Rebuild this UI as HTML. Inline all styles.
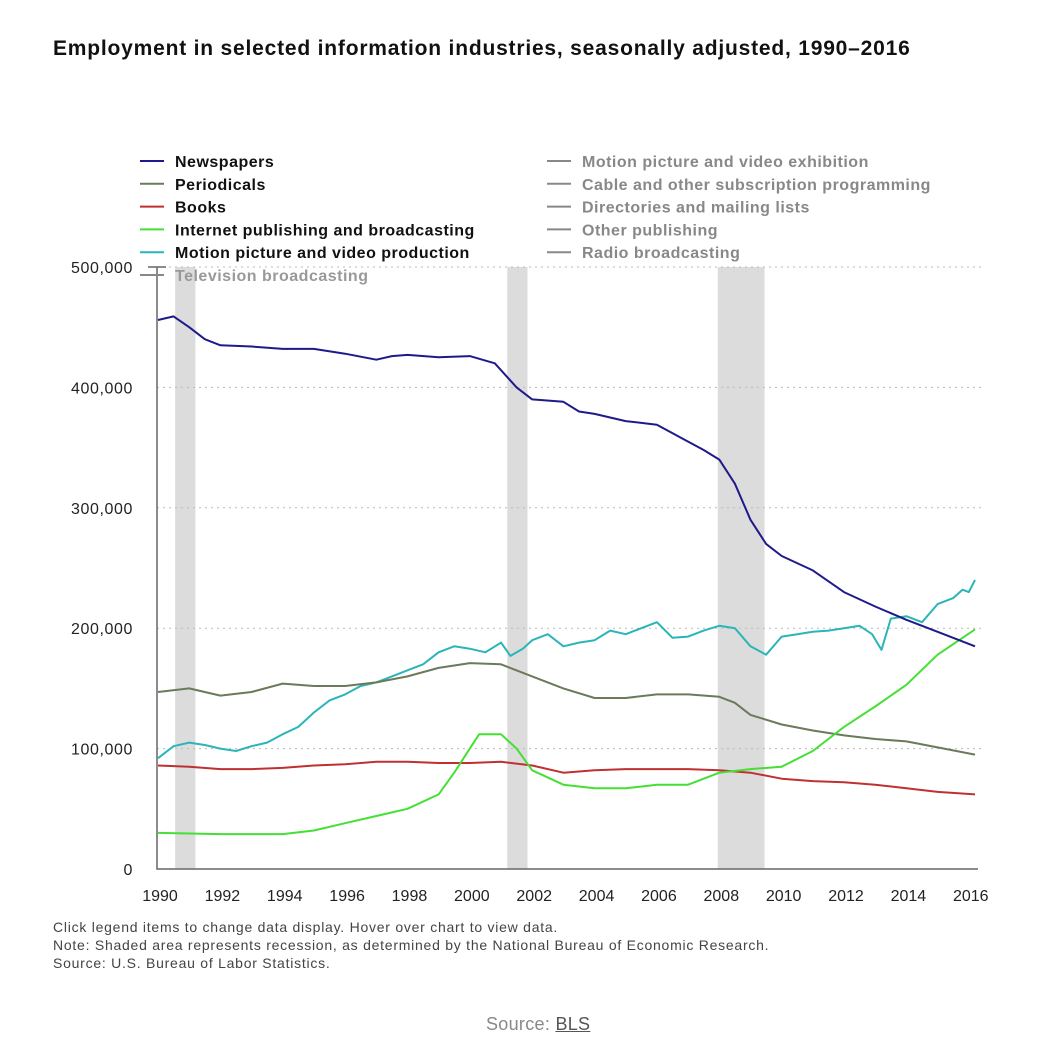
<!DOCTYPE html>
<html><head><meta charset="utf-8"><style>
body{margin:0;background:#fff;width:1037px;height:1064px;overflow:hidden;font-family:"Liberation Sans",sans-serif}
.t{position:absolute;white-space:nowrap}
</style></head><body>
<div class="t" style="left:53px;top:37px;font-size:21px;letter-spacing:0.8px;font-weight:bold;color:#111">Employment in selected information industries, seasonally adjusted, 1990–2016</div>
<svg id="c" width="1037" height="1064" style="position:absolute;left:0;top:0"></svg>
<div class="t" style="left:53px;top:919px;font-size:14px;letter-spacing:0.75px;color:#444">Click legend items to change data display. Hover over chart to view data.</div>
<div class="t" style="left:53px;top:937px;font-size:14px;letter-spacing:0.75px;color:#444">Note: Shaded area represents recession, as determined by the National Bureau of Economic Research.</div>
<div class="t" style="left:53px;top:955px;font-size:14px;letter-spacing:0.75px;color:#444">Source: U.S. Bureau of Labor Statistics.</div>
<div class="t" style="left:486px;top:1014px;font-size:18px;letter-spacing:0.3px;color:#888">Source: <span style="text-decoration:underline;color:#555">BLS</span></div>
<script>
const yTicks=[0,100000,200000,300000,400000,500000];
const xTicks=[1990,1992,1994,1996,1998,2000,2002,2004,2006,2008,2010,2012,2014,2016];
const recessions=[[1990.55,1991.2],[2001.2,2001.85],[2007.95,2009.45]];
const newsX=[1990,1990.5,1991,1991.5,1992,1993,1994,1995,1996,1997,1997.5,1998,1999,2000,2000.8,2001.5,2002,2003,2003.5,2004,2005,2006,2007,2007.5,2008,2008.5,2009,2009.5,2010,2011,2012,2013,2014,2015,2016.2];
const newsY=[456,459,450,440,435,434,432,432,428,423,426,427,425,426,420,400,390,388,380,378,372,369,355,348,340,320,290,270,260,248,230,218,207,197,185];
const perX=[1990,1991,1992,1993,1994,1995,1996,1997,1998,1999,2000,2001,2002,2003,2004,2005,2006,2007,2008,2008.5,2009,2010,2011,2012,2013,2014,2015,2016.2];
const perY=[147,150,144,147,154,152,152,155,160,167,171,170,160,150,142,142,145,145,143,138,128,120,115,111,108,106,101,95];
const bookX=[1990,1991,1992,1993,1994,1995,1996,1997,1998,1999,2000,2001,2002,2003,2004,2005,2006,2007,2008,2009,2010,2011,2012,2013,2014,2015,2016.2];
const bookY=[86,85,83,83,84,86,87,89,89,88,88,89,86,80,82,83,83,83,82,80,75,73,72,70,67,64,62];
const netX=[1990,1992,1994,1995,1996,1997,1998,1999,1999.5,2000,2000.3,2001,2001.5,2002,2003,2004,2005,2006,2006.5,2007,2008,2009,2010,2011,2012,2013,2014,2015,2016.2];
const netY=[30,29,29,32,38,44,50,62,80,100,112,112,100,82,70,67,67,70,70,70,80,83,85,98,118,135,153,178,199];
const movX=[1990,1990.5,1991,1991.5,1992,1992.5,1993,1993.5,1994,1994.5,1995,1995.5,1996,1996.5,1997,1997.5,1998,1998.5,1999,1999.5,2000,2000.5,2001,2001.3,2001.7,2002,2002.5,2003,2003.5,2004,2004.5,2005,2005.5,2006,2006.5,2007,2007.5,2008,2008.5,2009,2009.5,2010,2010.5,2011,2011.5,2012,2012.5,2012.9,2013.2,2013.5,2014,2014.5,2015,2015.5,2015.8,2016,2016.2];
const movY=[92,102,105,103,100,98,102,105,112,118,130,140,145,152,155,160,165,170,180,185,183,180,188,177,183,190,195,185,188,190,198,195,200,205,192,193,198,202,200,185,178,193,195,197,198,200,202,195,182,208,210,205,220,225,232,230,240];
const NS="http://www.w3.org/2000/svg";
const svg=document.getElementById('c');
const x0=158,x1=975,yb=869,yt=267;
function xs(v){return x0+(v-1990)*(x1-x0)/(2016.2-1990);}
function ys(v){return yb-v*(yb-yt)/500000;}
function mk(tag,attrs,parent){const e=document.createElementNS(NS,tag);for(const k in attrs)e.setAttribute(k,attrs[k]);(parent||svg).appendChild(e);return e;}
recessions.forEach(r=>{
 const e=mk('rect',{x:xs(r[0]),y:yt,width:xs(r[1])-xs(r[0]),height:yb-yt,fill:'#dcdcdc'});
 
 
});
yTicks.forEach(v=>{
 if(v>0){const g=mk('line',{x1:157,x2:985,y1:ys(v),y2:ys(v),stroke:'#bbb','stroke-dasharray':'2,4'});
 
 }
 const t=mk('text',{x:133,y:ys(v)+6,'text-anchor':'end','font-size':16,'letter-spacing':0.6,fill:'#222','font-family':'Liberation Sans, sans-serif'});
 t.textContent=v.toLocaleString('en-US');
 
 
});
xTicks.forEach(v=>{
 const t=mk('text',{x:xs(v)+2,y:901,'text-anchor':'middle','font-size':16,fill:'#222','font-family':'Liberation Sans, sans-serif'});
 t.textContent=v;
 
 
});
const ax=mk('path',{d:`M157 ${yt} V${yb} H978 M148 ${yt} H166`,stroke:'#666','stroke-width':1.5,fill:'none'});


const series=[[movX,movY,'#2ab5b8','motion-picture-line'],[perX,perY,'#6b7a5a','periodicals-line'],[bookX,bookY,'#c03030','books-line'],[netX,netY,'#44e035','internet-line'],[newsX,newsY,'#1f1a8a','newspapers-line']];
series.forEach(s=>{
 const d=s[0].map((v,i)=>(i?'L':'M')+xs(v).toFixed(1)+' '+ys(s[1][i]*1000).toFixed(1)).join(' ');
 const p=mk('path',{d:d,stroke:s[2],'stroke-width':2,fill:'none','stroke-linejoin':'round'});
 
 
});
const legL=[['Newspapers','#1f1a8a'],['Periodicals','#6b7a5a'],['Books','#c03030'],['Internet publishing and broadcasting','#44e035'],['Motion picture and video production','#2ab5b8']];
const legR=['Motion picture and video exhibition','Cable and other subscription programming','Directories and mailing lists','Other publishing','Radio broadcasting'];
function legend(x,y,label,col,tcol){
 const g=mk('g',{});
 
 
 mk('line',{x1:x,x2:x+24,y1:y,y2:y,stroke:col,'stroke-width':2},g);
 const t=mk('text',{x:x+35,y:y+6,'font-size':16,'letter-spacing':0.5,'font-weight':'bold',fill:tcol,'font-family':'Liberation Sans, sans-serif'},g);
 t.textContent=label;
}
legL.forEach((l,i)=>legend(140,161+i*22.8,l[0],l[1],'#111'));
legR.forEach((l,i)=>legend(547,161+i*22.8,l,'#888','#888'));
legend(140,275,'Television broadcasting','#888','#999');
</script>
</body></html>
